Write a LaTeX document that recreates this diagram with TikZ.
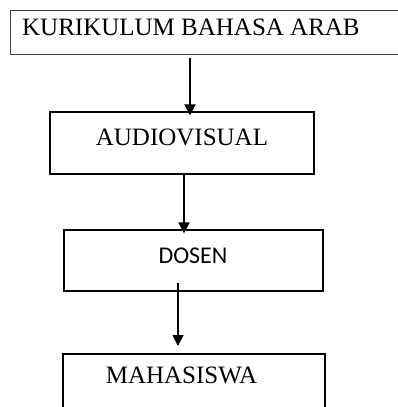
\documentclass[tikz,border=0pt]{standalone}
\usepackage{fontspec}
\setmainfont{Liberation Serif}
\newfontfamily\calib{Carlito}
\usetikzlibrary{arrows.meta,calc}
\begin{document}
\begin{tikzpicture}[x=1pt,y=-1pt,
  box/.style={draw=black, line width=1.2pt, inner sep=0pt},
  lbl/.style={inner sep=0pt, anchor=base, font=\fontsize{25}{28}\selectfont},
  arr/.style={line width=1.6pt, -{Triangle[length=11pt,width=11pt]}}]
\useasboundingbox (0,0) rectangle (398,407);
\clip (0,0) rectangle (398,407);
% boxes
\node[box, draw=black!75, line width=0.9pt, minimum width=400pt, minimum height=44pt] (b1) at (210,32) {};
\node[box, minimum width=264pt, minimum height=62pt] (b2) at (182,143) {};
\node[box, minimum width=259pt, minimum height=61pt] (b3) at (193.5,260.5) {};
\node[box, minimum width=262pt, minimum height=70pt] (b4) at (194,389) {};
% labels
\node[lbl, anchor=base west] (t1) at (22,35) {KURIKULUM BAHASA ARAB};
\node[lbl] (t2) at (182,145) {AUDIOVISUAL};
\node[lbl, font=\calib\fontsize{24}{28}\selectfont] (t3) at (193,263) {DOSEN};
\node[lbl] (t4) at (181.5,383) {MAHASISWA};
% connectors
\coordinate (a1s) at (190,58);
\draw[arr] (a1s) -- ([yshift=-4pt]a1s |- b2.north);
\coordinate (a2s) at (184,174);
\draw[arr] (a2s) -- ([yshift=-4pt]a2s |- b3.north);
\coordinate (a3s) at (178,283);
\coordinate (a3e) at (178,346);
\draw[arr] (a3s) -- (a3e);
\end{tikzpicture}
\end{document}
